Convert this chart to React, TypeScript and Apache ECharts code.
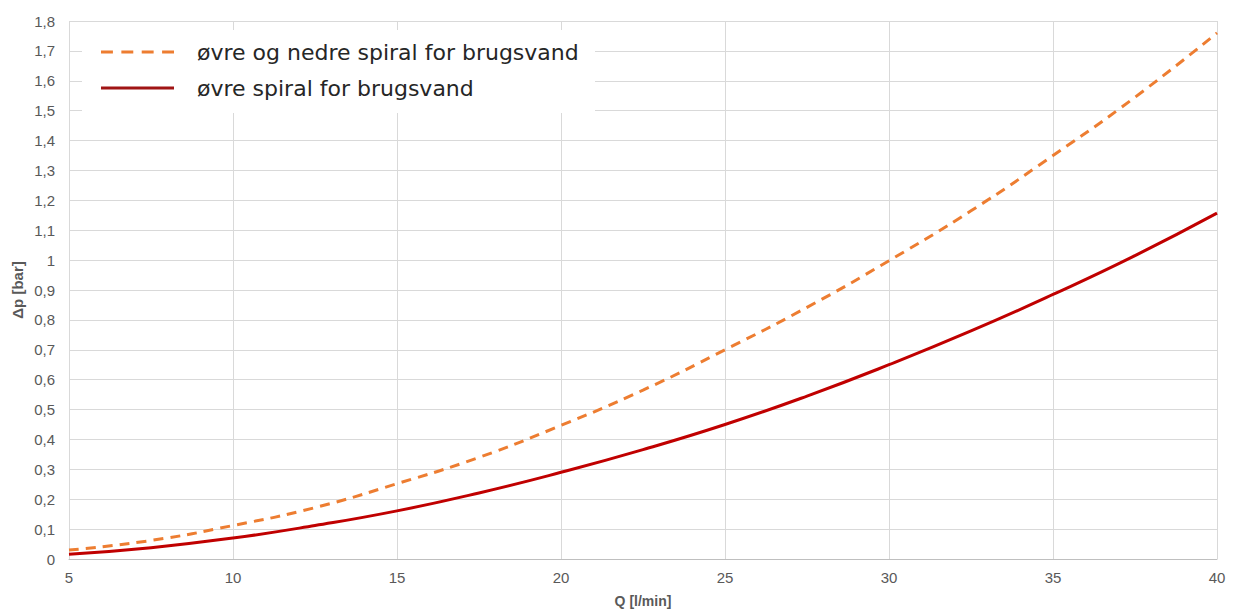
import React, { useEffect, useRef } from "react";
import * as echarts from "echarts";

const qValues = [5, 7.5, 10, 12.5, 15, 17.5, 20, 22.5, 25, 27.5, 30, 32.5, 35, 37.5, 40];
const bothSpirals = [0.03, 0.062, 0.112, 0.172, 0.252, 0.34, 0.447, 0.565, 0.70, 0.842, 0.998, 1.165, 1.35, 1.545, 1.76];
const upperSpiral = [0.016, 0.038, 0.07, 0.112, 0.161, 0.221, 0.29, 0.366, 0.45, 0.545, 0.65, 0.763, 0.885, 1.015, 1.157];
const seriesNames = ["øvre og nedre spiral for brugsvand", "øvre spiral for brugsvand"];

const dashedIcon = "path://M0,0h12v3h-12z M20.5,0h12v3h-12z M41,0h12v3h-12z M61.5,0h12v3h-12z";
const solidIcon = "path://M0,0h73v3h-73z";

export default function App() {
  const ref = useRef<HTMLDivElement>(null);
  useEffect(() => {
    if (!ref.current) return;
    const chart = echarts.init(ref.current, null, { renderer: "svg" });
    const font = "'Liberation Sans', Arial, sans-serif";
    chart.setOption({
      animation: false,
      backgroundColor: "#ffffff",
      textStyle: { fontFamily: font },
      grid: { left: 69, right: 18, top: 21, bottom: 51 },
      graphic: [
        {
          type: "rect",
          z: 5,
          shape: { x: 82, y: 30, width: 513, height: 83 },
          style: { fill: "#ffffff" },
        },
      ],
      legend: {
        z: 10,
        orient: "vertical",
        left: 96,
        top: 36,
        itemWidth: 73,
        itemHeight: 3,
        itemGap: 14,
        textStyle: {
          fontSize: 22,
          color: "#262626",
          fontFamily: "'DejaVu Sans', Verdana, sans-serif",
          padding: [0, 0, 0, 18],
        },
        data: [
          { name: seriesNames[0], icon: dashedIcon, itemStyle: { color: "#ED7D31" } },
          { name: seriesNames[1], icon: solidIcon, itemStyle: { color: "#A01515" } },
        ],
      },
      xAxis: {
        type: "value",
        min: 5,
        max: 40,
        interval: 5,
        name: "Q [l/min]",
        nameLocation: "middle",
        nameGap: 35,
        nameTextStyle: { fontWeight: "bold", fontSize: 14, color: "#595959" },
        axisLine: { show: true, lineStyle: { color: "#bfbfbf" } },
        axisTick: { show: false },
        axisLabel: { fontSize: 15, color: "#595959", margin: 11 },
        splitLine: { show: true, lineStyle: { color: "#d9d9d9" } },
      },
      yAxis: {
        type: "value",
        min: 0,
        max: 1.8,
        interval: 0.1,
        name: "Δp [bar]",
        nameLocation: "middle",
        nameGap: 44,
        nameMoveOverlap: false,
        nameTextStyle: { fontWeight: "bold", fontSize: 15, color: "#595959" },
        axisLine: { show: false },
        axisTick: { show: false },
        axisLabel: {
          fontSize: 15,
          color: "#595959",
          margin: 14,
          formatter: (v: number) => String(Math.round(v * 10) / 10).replace(".", ","),
        },
        splitLine: { show: true, lineStyle: { color: "#d9d9d9" } },
      },
      series: [
        {
          name: seriesNames[0],
          type: "line",
          smooth: true,
          showSymbol: false,
          symbol: "none",
          data: qValues.map((q, i) => [q, bothSpirals[i]]),
          lineStyle: { color: "#ED7D31", width: 3, type: [10, 7] },
          itemStyle: { color: "#ED7D31" },
        },
        {
          name: seriesNames[1],
          type: "line",
          smooth: true,
          showSymbol: false,
          symbol: "none",
          data: qValues.map((q, i) => [q, upperSpiral[i]]),
          lineStyle: { color: "#C00000", width: 3 },
          itemStyle: { color: "#C00000" },
        },
      ],
    });
    return () => chart.dispose();
  }, []);
  return <div ref={ref} style={{ position: "fixed", left: 0, top: 0, width: 1235, height: 613 }} />;
}
